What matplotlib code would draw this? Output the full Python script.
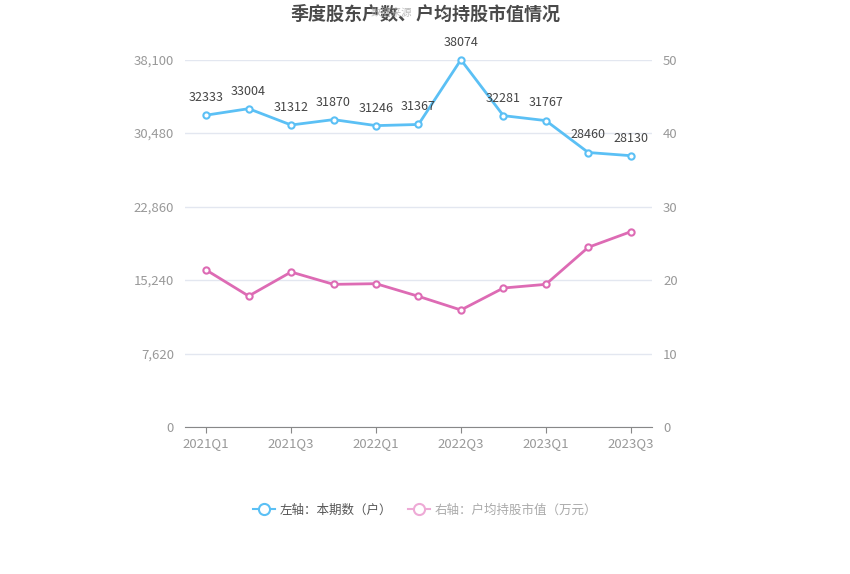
import numpy as np
import matplotlib.pyplot as plt
from matplotlib.lines import Line2D

plt.rcParams['font.family'] = ['Noto Sans CJK SC', 'DejaVu Sans']

quarters = ['2021Q1', '2021Q2', '2021Q3', '2021Q4', '2022Q1', '2022Q2',
            '2022Q3', '2022Q4', '2023Q1', '2023Q2', '2023Q3']
holders = [32333, 33004, 31312, 31870, 31246, 31367, 38074, 32281, 31767, 28460, 28130]
avg_value = [21.36, 17.82, 21.09, 19.41, 19.5, 17.78, 15.92, 18.91, 19.41, 24.45, 26.57]

left_ticks = [0, 7620, 15240, 22860, 30480, 38100]
right_ticks = [0, 10, 20, 30, 40, 50]

blue = '#5bc0f5'
pink = '#dd6bb4'
grid_c = '#e3e7f0'
tick_c = '#999999'

fig = plt.figure(figsize=(8.5, 5.74), dpi=100)
ax = fig.add_axes([0.2176, 0.2561, 0.5494, 0.6402])
ax2 = ax.twinx()

x = np.arange(len(quarters))

ax.plot(x, holders, color=blue, lw=2, marker='o', ms=4.5, mfc='white',
        mec=blue, mew=1.5, zorder=5, clip_on=False)
ax2.plot(x, avg_value, color=pink, lw=2, marker='o', ms=4.5, mfc='white',
         mec=pink, mew=1.5, zorder=5, clip_on=False)

# labels above the left-axis series
for xi, v in zip(x, holders):
    ax.annotate(str(v), (xi, v), xytext=(0, 8), textcoords='offset points',
                ha='center', va='bottom', fontsize=9, color='#444444', zorder=6)

ax.set_xlim(-0.5, len(quarters) - 0.5)
ax.set_ylim(0, 38100)
ax2.set_ylim(0, 50)

ax.set_yticks(left_ticks)
ax.set_yticklabels([f'{t:,}' for t in left_ticks])
ax2.set_yticks(right_ticks)
ax2.set_yticklabels([str(t) for t in right_ticks])

ax.set_xticks(x[::2])
ax.set_xticklabels(quarters[::2])

ax.grid(axis='y', color=grid_c, lw=1)
ax.set_axisbelow(True)

for a in (ax, ax2):
    for s in ('top', 'left', 'right'):
        a.spines[s].set_visible(False)
    a.spines['bottom'].set_color('#888888')
ax2.spines['bottom'].set_visible(False)

ax.tick_params(axis='y', length=0, pad=8, labelcolor=tick_c, labelsize=9.5)
ax2.tick_params(axis='y', length=0, pad=8, labelcolor=tick_c, labelsize=9.5)
ax.tick_params(axis='x', length=4, color='#888888', labelcolor=tick_c,
               labelsize=9.5, pad=3)

fig.text(0.5, 0.975, '季度股东户数、户均持股市值情况', ha='center', va='center',
         fontsize=13, fontweight='bold', color='#4a4a4a')
fig.text(0.46, 0.978, '数据来源', ha='center', va='center', fontsize=7.5,
         color='#aaaaaa', alpha=0.8)

handles = [
    Line2D([], [], color=blue, lw=1.5, marker='o', ms=8, mfc='white', mec=blue, mew=1.5),
    Line2D([], [], color='#eeaad6', lw=1.5, marker='o', ms=8, mfc='white', mec='#eeaad6', mew=1.5),
]
leg = fig.legend(handles, ['左轴：本期数（户）', '右轴：户均持股市值（万元）'],
                 loc='center', bbox_to_anchor=(0.5, 0.111), ncol=2, frameon=False,
                 fontsize=9, handlelength=1.8, columnspacing=1.2, handletextpad=0.4)
for t in leg.get_texts():
    t.set_color('#555555')
leg.get_texts()[1].set_color('#aaaaaa')

fig.savefig('out.png', dpi=100)
